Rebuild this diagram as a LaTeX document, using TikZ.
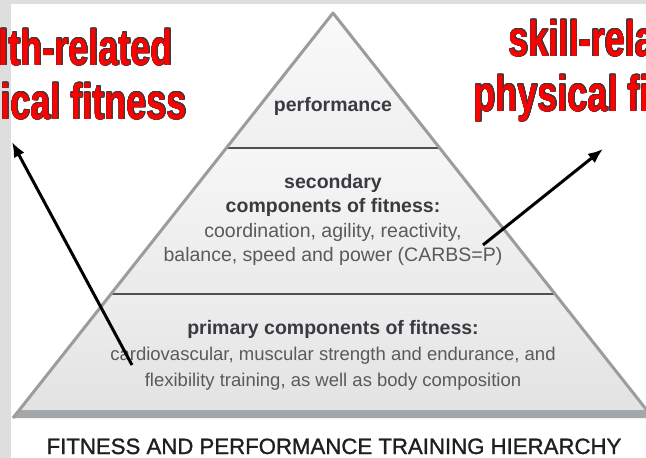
\documentclass[tikz,border=0pt]{standalone}
\usepackage{fontspec}
\setmainfont{Liberation Sans}
\newfontfamily\redfont[FakeStretch=0.72]{Liberation Sans Bold}
\newfontfamily\capfont[FakeBold=1.2]{Liberation Sans}
\usepackage[copies]{contour}
\usetikzlibrary{arrows.meta}
\contourlength{0.7pt}
\definecolor{panelgray}{HTML}{DEDEDE}
\definecolor{edgegray}{HTML}{9C9C9C}
\definecolor{bandgray}{HTML}{A3A7A9}
\definecolor{divider}{HTML}{505050}
\definecolor{boldtext}{HTML}{3A3A40}
\definecolor{plaintext}{HTML}{5A5A5E}
\definecolor{labelred}{HTML}{FF0000}
\definecolor{outlinegray}{HTML}{3A3A3A}
\tikzset{
  tiertext/.style={align=center, inner sep=0pt, text=plaintext,
    font=\fontsize{19.5}{24.5}\selectfont},
  redlabel/.style={inner sep=0pt, text=labelred,
    font=\redfont\fontsize{50}{54}\selectfont},
  pointer/.style={line width=3pt, -{Latex[length=15pt,width=12pt]}},
}
% red lettering with a thin dark rim
\newcommand{\rl}[1]{\contour{outlinegray}{#1}}
\begin{document}
\begin{tikzpicture}[x=1pt, y=-1pt]
\useasboundingbox (0,0) rectangle (646,458);
\clip (0,0) rectangle (646,458);
% page background and white panel
\fill[panelgray] (0,0) rectangle (646,458);
\fill[white] (11,4) rectangle (646,458);

% pyramid tiers
\shade[top color=white!96!gray, bottom color=white!88!gray]
  (333,13) -- (439.7,148) -- (226.3,148) -- cycle;
\shade[top color=white!93!gray, bottom color=white!84!gray]
  (226.3,148) -- (439.7,148) -- (555,294) -- (111,294) -- cycle;
\shade[top color=white!86!gray, bottom color=white!78!gray]
  (111,294) -- (555,294) -- (646.6,410) -- (19.4,410) -- cycle;
% darker base band
\fill[bandgray] (19.4,410) -- (646.6,410) -- (653,418) -- (13,418) -- cycle;
% tier dividers
\draw[divider, line width=1.4pt] (226.3,148) -- (439.7,148);
\draw[divider, line width=1.4pt] (111,294) -- (555,294);
% outline
\draw[edgegray, line width=3pt, line join=round] (13,418) -- (333,13) -- (653,418);

% tier texts
\node[tiertext, text=boldtext, font=\bfseries\fontsize{19.5}{24.5}\selectfont]
  (perf) at (333,106) {performance};
\node[tiertext] (second) at (333,220)
  {{\bfseries\color{boldtext}secondary}\\
   {\bfseries\color{boldtext}components of fitness:}\\
   coordination, agility, reactivity,\\
   balance, speed and power (CARBS=P)};
\node[tiertext, font=\fontsize{18.5}{26}\selectfont] (primary) at (333,355)
  {{\bfseries\color{boldtext}\fontsize{19.5}{26}\selectfont primary components of fitness:}\\
   cardiovascular, muscular strength and endurance, and\\
   flexibility training, as well as body composition};

% caption
\node[anchor=base, inner sep=0pt, text=black!88, font=\capfont\fontsize{22.2}{24}\selectfont]
  (caption) at (334,454) {FITNESS AND PERFORMANCE TRAINING HIERARCHY};

% red labels, running off the page edges
\node[redlabel, anchor=base east] (healthA) at (173,65) {\rl{health-related}};
\node[redlabel, anchor=base east] (healthB) at (187,119) {\rl{physical fitness}};
\node[redlabel, anchor=base] (skillA) at (609,56) {\rl{skill-related}};
\node[redlabel, anchor=base] (skillB) at (609,111) {\rl{physical fitness}};

% pointers
\coordinate (healthFrom) at (132,365);
\coordinate (healthTo) at (12,142);
\coordinate (skillFrom) at (483,245);
\coordinate (skillTo) at (603,149);
\draw[pointer] (healthFrom) -- (healthTo);
\draw[pointer] (skillFrom) -- (skillTo);
\end{tikzpicture}
\end{document}
